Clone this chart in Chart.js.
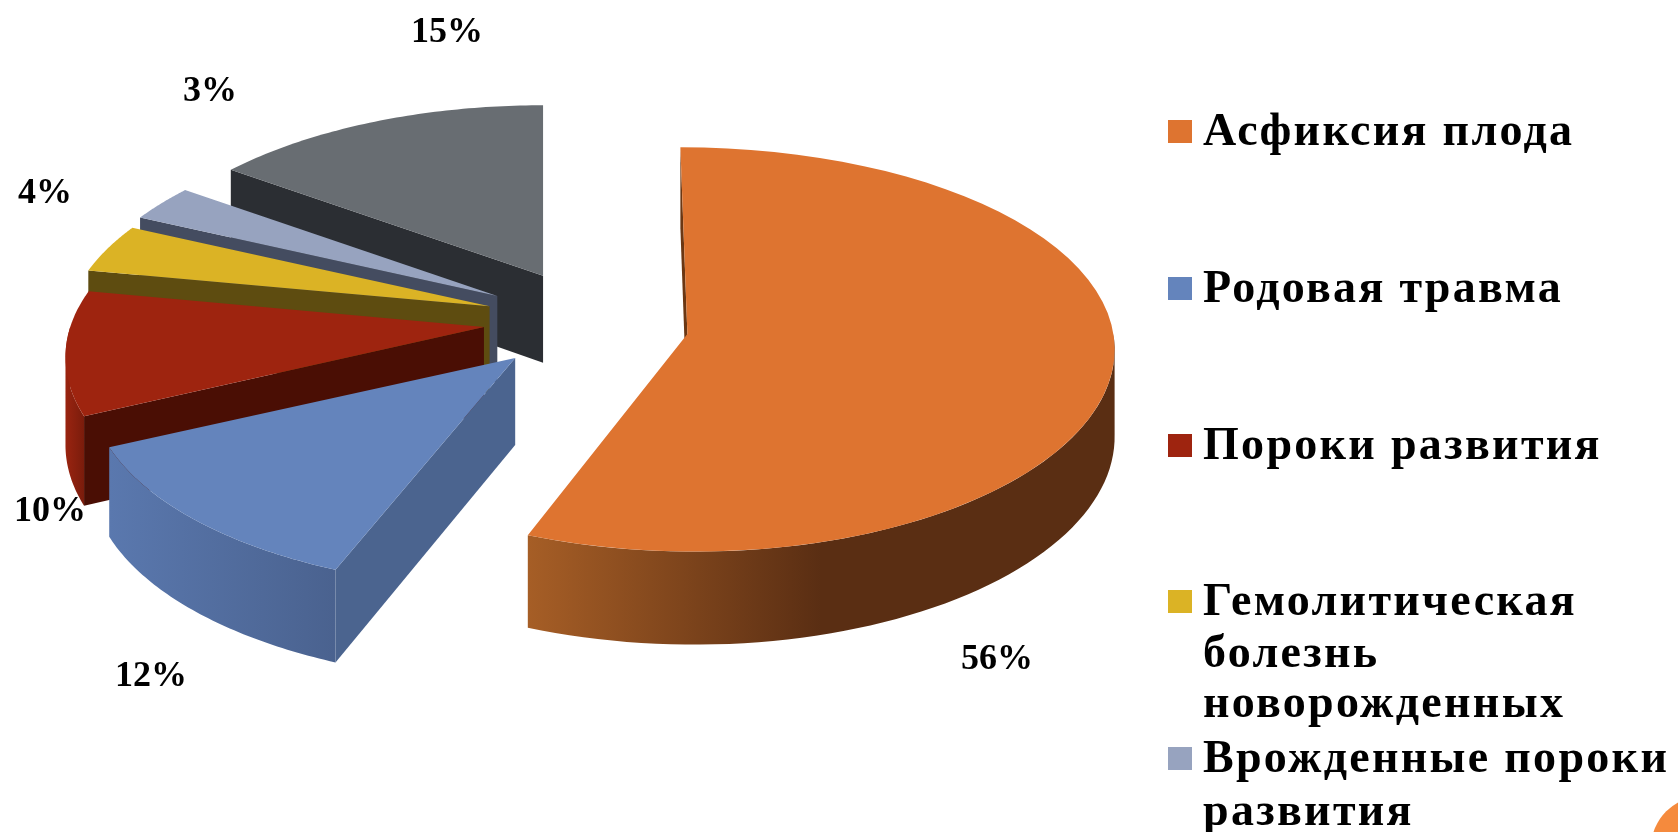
<!DOCTYPE html>
<html lang="ru">
<head>
<meta charset="utf-8">
<title>Структура причин</title>
<script src="https://cdn.jsdelivr.net/npm/chart.js@4"></script>
<style>
    html, body { margin: 0; padding: 0; background: #fff; overflow: hidden; }
    canvas { display: block; }
</style>
</head>
<body>
<canvas id="pieChart" width="1678" height="832"></canvas>
<script>
// Slices, clockwise from 12 o'clock
const categories = [
    "Асфиксия плода",
    "Родовая травма",
    "Пороки развития",
    "Гемолитическая болезнь новорожденных",
    "Врожденные пороки развития",
    "",
];
const shares = [56, 12, 10, 4, 3, 15];

// How far each slice is pulled out of the pie
const explode = [91, 121, 115, 114, 117, 121];

const faceColors = ["#DE7430", "#6484BC", "#9E240F", "#DBB325", "#97A3BF", "#686D72"];
const edgeColors = ["#6B3713", "#4B648F", "#4A0E04", "#5E4C10", "#444C60", "#2B2E33"];
const rimFrom = ["#A65E26", "#5A78AE", "#9A2410", "#8A7015", "#444C60", "#2B2E33"];
const rimTo = ["#5A2E13", "#4A628F", "#7A1C0C", "#5E4C10", "#444C60", "#2B2E33"];
const rimFade = [0.5, 1, 1, 1, 1, 1];

// Per-slice shape of the tilted disc: widths, heights, foreshortening, far edge lean
const widen = [1.0143, 1, 0.985, 1, 1, 1];
const radiusY = [201, 196, 196, 196, 196, 196];
const tiltY = [0.0765, 0.15, 0.15, 0.15, 0.15, 0.15];
const tiltX = [0.06, 0.15, 0.15, 0.15, 0.15, 0.15];
const lean = [7, 0, 0, 0, 0, 0];
const pullSquash = [0.76, 0.42, 0.42, 0.42, 0.42, 0.42];
const wallDepth = 87;

const labelFont = "bold 36px 'Liberation Serif'";
const labelSpots = [[997, 660], [151, 677], [50, 512], [45, 194], [210, 92], [447, 33]];

// Legend rows: slice index (or -1 for a wrapped line), text, baseline
const legendRows = [
    [0, "Асфиксия плода", 145],
    [1, "Родовая травма", 302],
    [2, "Пороки развития", 459],
    [3, "Гемолитическая", 615],
    [-1, "болезнь", 667],
    [-1, "новорожденных", 717],
    [4, "Врожденные пороки", 772],
    [-1, "развития", 825],
];

function slicePoint(arc, i, angle) {
    const half = (arc.startAngle + arc.endAngle) / 2;
    const pull = arc.options.offset;
    const ax = arc.x + Math.cos(half) * pull;
    const ay = arc.y + Math.sin(half) * pull * pullSquash[i];
    if (angle === null) return [ax, ay];
    const cx = Math.cos(angle);
    const cy = Math.sin(angle);
    return [
        ax + arc.outerRadius * widen[i] * cx / (1 - tiltX[i] * cy) + lean[i] * cy,
        ay + radiusY[i] * cy / (1 - tiltY[i] * cy),
    ];
}

function polygon(ctx, pts, fill) {
    ctx.beginPath();
    pts.forEach((p, n) => (n ? ctx.lineTo(p[0], p[1]) : ctx.moveTo(p[0], p[1])));
    ctx.closePath();
    ctx.fillStyle = fill;
    ctx.fill();
}

function sweep(arc, i, from, to) {
    const pts = [];
    const steps = 60;
    for (let n = 0; n <= steps; n++) {
        pts.push(slicePoint(arc, i, from + (to - from) * n / steps));
    }
    return pts;
}

function dropAt(angle) {
    return wallDepth + 6 * Math.sin(angle);
}

function edgeWall(ctx, arc, i, angle) {
    const apex = slicePoint(arc, i, null);
    const tip = slicePoint(arc, i, angle);
    polygon(ctx, [
        apex, tip,
        [tip[0], tip[1] + dropAt(angle)],
        [apex[0], apex[1] + wallDepth],
    ], edgeColors[i]);
}

function rimWall(ctx, arc, i, lo, hi) {
    const top = sweep(arc, i, lo, hi);
    const xs = top.map((p) => p[0]);
    const grad = ctx.createLinearGradient(Math.min(...xs), 0, Math.max(...xs), 0);
    // the lit end of the rim is always on the left
    grad.addColorStop(0, rimFrom[i]);
    grad.addColorStop(rimFade[i], rimTo[i]);
    if (rimFade[i] < 1) grad.addColorStop(1, rimTo[i]);

    // one strip per step in a single path, all wound the same way so the
    // part that folds back near the silhouette stays filled
    ctx.beginPath();
    for (let n = 0; n < top.length - 1; n++) {
        const a0 = lo + (hi - lo) * n / (top.length - 1);
        const a1 = lo + (hi - lo) * (n + 1) / (top.length - 1);
        const quad = [
            top[n], top[n + 1],
            [top[n + 1][0], top[n + 1][1] + dropAt(a1)],
            [top[n][0], top[n][1] + dropAt(a0)],
        ];
        if (top[n + 1][0] < top[n][0]) quad.reverse();
        quad.forEach((p, k) => (k ? ctx.lineTo(p[0], p[1]) : ctx.moveTo(p[0], p[1])));
        ctx.closePath();
    }
    ctx.fillStyle = grad;
    ctx.fill();
}

// Solid exploded pie: side walls first, top face over them, far slices first
const solidPie = {
    id: "solidPie",
    beforeDatasetDraw(chart) {
        const ctx = chart.ctx;
        const arcs = chart.getDatasetMeta(0).data;
        ctx.save();
        for (let i = arcs.length - 1; i >= 0; i--) {
            const arc = arcs[i];
            if (Math.cos(arc.startAngle) < 0.01) edgeWall(ctx, arc, i, arc.startAngle);
            if (Math.cos(arc.endAngle) > 0.01) edgeWall(ctx, arc, i, arc.endAngle);

            const lo = Math.max(arc.startAngle, 0);
            const hi = Math.min(arc.endAngle, Math.PI);
            if (hi > lo) rimWall(ctx, arc, i, lo, hi);

            const face = [slicePoint(arc, i, null)].concat(sweep(arc, i, arc.startAngle, arc.endAngle));
            polygon(ctx, face, faceColors[i]);
        }
        ctx.restore();
        return false;
    },
    afterDraw(chart) {
        const ctx = chart.ctx;
        ctx.save();

        // percentage labels
        ctx.font = labelFont;
        ctx.fillStyle = "#000";
        ctx.textAlign = "center";
        ctx.textBaseline = "middle";
        shares.forEach((v, i) => {
            ctx.fillText(v + "%", labelSpots[i][0], labelSpots[i][1]);
        });

        // legend
        ctx.textAlign = "left";
        ctx.textBaseline = "alphabetic";
        ctx.font = "bold 46px 'Liberation Serif'";
        ctx.letterSpacing = "2.3px";
        legendRows.forEach(([idx, text, base]) => {
            if (idx >= 0) {
                ctx.fillStyle = faceColors[idx];
                ctx.fillRect(1168, base - 25, 24, 23);
            }
            ctx.fillStyle = "#000";
            ctx.fillText(text, 1203, base);
        });
        ctx.letterSpacing = "0px";

        // slide page marker in the corner
        ctx.beginPath();
        ctx.arc(1703, 848, 52, 0, Math.PI * 2);
        ctx.fillStyle = "#F58A3D";
        ctx.fill();
        ctx.restore();
    },
};

new Chart(document.getElementById("pieChart").getContext("2d"), {
    type: "pie",
    data: {
        labels: categories,
        datasets: [{
            data: shares,
            backgroundColor: faceColors,
            borderWidth: 0,
            offset: explode,
        }],
    },
    options: {
        responsive: false,
        animation: false,
        radius: 420,
        layout: { padding: { left: 0, top: 0, right: 482, bottom: 190 } },
        plugins: { legend: { display: false }, tooltip: { enabled: false } },
    },
    plugins: [solidPie],
});
</script>
</body>
</html>
